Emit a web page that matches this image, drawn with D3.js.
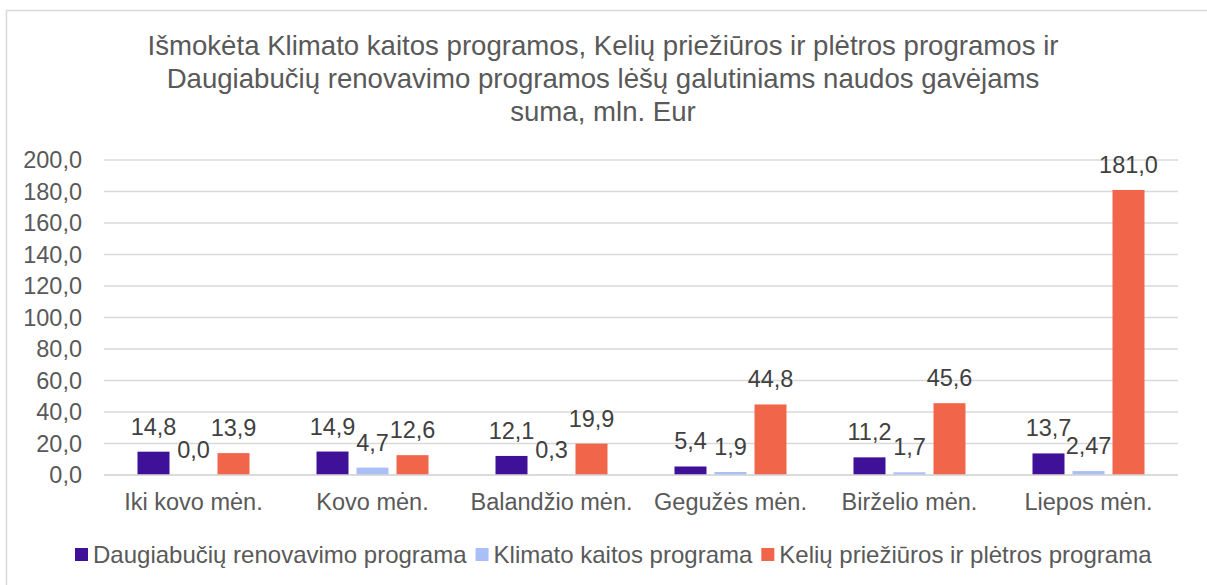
<!DOCTYPE html>
<html>
<head>
<meta charset="utf-8">
<script src="https://cdn.jsdelivr.net/npm/d3@7"></script>
<style>
  body { margin: 0; background: #fff; }
  text { font-family: "Liberation Sans", Arial, sans-serif; }
</style>
</head>
<body>
<div id="canvas"></div>
<script>
const categories = ["Iki kovo mėn.", "Kovo mėn.", "Balandžio mėn.", "Gegužės mėn.", "Birželio mėn.", "Liepos mėn."];
const seriesNames = ["Daugiabučių renovavimo programa", "Klimato kaitos programa", "Kelių priežiūros ir plėtros programa"];
const renovavimo = [14.8, 14.9, 12.1, 5.4, 11.2, 13.7];
const klimato = [0.0, 4.7, 0.3, 1.9, 1.7, 2.47];
const keliu = [13.9, 12.6, 19.9, 44.8, 45.6, 181.0];
const yTicks = [0, 20, 40, 60, 80, 100, 120, 140, 160, 180, 200];
const titleLines = [
  "Išmokėta Klimato kaitos programos, Kelių priežiūros ir plėtros programos ir",
  "Daugiabučių renovavimo programos lėšų galutiniams naudos gavėjams",
  "suma, mln. Eur"
];
const colors = ["#3f1199", "#a9bff5", "#f1654a"];

const w = 1207, h = 585;
const margin = { top: 160, bottom: 110, left: 104, right: 29 };

const svg = d3.select("#canvas").append("svg")
  .attr("width", w).attr("height", h);

// chart frame
svg.append("rect")
  .attr("x", 6.5).attr("y", 10.5)
  .attr("width", 1220).attr("height", 600)
  .attr("fill", "none").attr("stroke", "#d9d9d9").attr("stroke-width", 1.5);

// title
svg.append("g").selectAll("text")
  .data(titleLines).enter().append("text")
  .attr("x", 603)
  .attr("y", (d, i) => 55 + i * 33)
  .attr("text-anchor", "middle")
  .attr("font-size", 27.6)
  .attr("fill", "#595959")
  .text(d => d);

const x0 = d3.scaleBand().domain(categories).range([margin.left, w - margin.right]);
const x1 = d3.scaleBand().domain(d3.range(3)).range([-60, 60]).paddingInner(0.2).paddingOuter(0.1);
const y = d3.scaleLinear().domain([0, 200]).range([h - margin.bottom, margin.top]);

// gridlines
svg.append("g").selectAll("line")
  .data(yTicks).enter().append("line")
  .attr("x1", margin.left).attr("x2", w - margin.right)
  .attr("y1", d => y(d)).attr("y2", d => y(d))
  .attr("stroke", "#d9d9d9").attr("stroke-width", 1.5);

const fmt = v => {
  const s = String(v);
  const dec = s.includes(".") ? s.split(".")[1].length : 0;
  return v.toFixed(Math.max(1, dec)).replace(".", ",");
};

// y axis labels
svg.append("g").selectAll("text")
  .data(yTicks).enter().append("text")
  .attr("x", margin.left - 22)
  .attr("y", d => y(d) + 8)
  .attr("text-anchor", "end")
  .attr("font-size", 23.5)
  .attr("fill", "#595959")
  .text(d => fmt(d));

const allSeries = [renovavimo, klimato, keliu];
const rows = [];
allSeries.forEach((vals, s) => {
  vals.forEach((v, i) => rows.push({ s: s, cat: categories[i], v: v }));
});

const bars = svg.append("g");
bars.selectAll("rect")
  .data(rows).enter().append("rect")
  .attr("x", d => x0(d.cat) + x0.bandwidth() / 2 + x1(d.s))
  .attr("width", x1.bandwidth())
  .attr("y", d => y(d.v))
  .attr("height", d => y(0) - y(d.v))
  .attr("fill", d => colors[d.s]);

// baseline
svg.append("line")
  .attr("x1", margin.left).attr("x2", w - margin.right)
  .attr("y1", y(0)).attr("y2", y(0))
  .attr("stroke", "#d9d9d9").attr("stroke-width", 1.5);

// data labels
svg.append("g").selectAll("text")
  .data(rows).enter().append("text")
  .attr("x", d => x0(d.cat) + x0.bandwidth() / 2 + x1(d.s) + x1.bandwidth() / 2)
  .attr("y", d => y(d.v) - 17)
  .attr("text-anchor", "middle")
  .attr("font-size", 23.5)
  .attr("fill", "#404040")
  .text(d => fmt(d.v));

// category labels
svg.append("g").selectAll("text")
  .data(categories).enter().append("text")
  .attr("x", d => x0(d) + x0.bandwidth() / 2)
  .attr("y", 510)
  .attr("text-anchor", "middle")
  .attr("font-size", 23.5)
  .attr("fill", "#595959")
  .text(d => d);

// legend
const legend = svg.append("g");
let lx = 75;
seriesNames.forEach((name, i) => {
  legend.append("rect")
    .attr("x", lx).attr("y", 548)
    .attr("width", 13).attr("height", 13)
    .attr("fill", colors[i]);
  const t = legend.append("text")
    .attr("x", lx + 18).attr("y", 563)
    .attr("font-size", 24)
    .attr("fill", "#595959")
    .text(name);
  lx += 18 + t.node().getComputedTextLength() + 9;
});
</script>
</body>
</html>
